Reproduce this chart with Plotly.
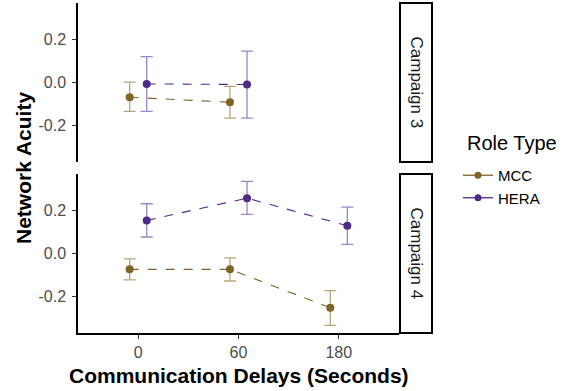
import plotly.graph_objects as go

delays = ["0", "60", "180"]
roles = ["MCC", "HERA"]

# Campaign 3 (no 180 s data)
c3_mcc = [-0.070, -0.093, None]
c3_mcc_lo = [-0.135, -0.167, None]
c3_mcc_hi = [0.000, -0.019, None]
c3_hera = [-0.008, -0.011, None]
c3_hera_lo = [-0.135, -0.167, None]
c3_hera_hi = [0.118, 0.144, None]

# Campaign 4
c4_mcc = [-0.075, -0.075, -0.253]
c4_mcc_lo = [-0.124, -0.129, -0.335]
c4_mcc_hi = [-0.026, -0.022, -0.174]
c4_hera = [0.152, 0.255, 0.127]
c4_hera_lo = [0.075, 0.180, 0.041]
c4_hera_hi = [0.229, 0.333, 0.213]

colors = {"MCC": "#7F6427", "HERA": "#4F2A86"}
err_colors = {"MCC": "#B8A678", "HERA": "#9C86C6"}
dodge = {"MCC": -0.085, "HERA": 0.085}

FONT = "Liberation Sans, Arial, sans-serif"

fig = go.Figure()


def add_series(role, vals, lo, hi, xa, ya):
    xs, ys, ep, em = [], [], [], []
    for i, v in enumerate(vals):
        if v is None:
            continue
        xs.append(i + 1 + dodge[role])
        ys.append(v)
        ep.append(hi[i] - v)
        em.append(v - lo[i])
    fig.add_trace(go.Scatter(
        x=xs, y=ys, mode="lines+markers", xaxis=xa, yaxis=ya,
        line=dict(color=colors[role], dash="dash", width=1.1),
        marker=dict(color=colors[role], size=8),
        error_y=dict(type="data", symmetric=False, array=ep, arrayminus=em,
                     color=err_colors[role], thickness=1.3, width=6),
        showlegend=False, hoverinfo="skip"))


add_series("MCC", c3_mcc, c3_mcc_lo, c3_mcc_hi, "x2", "y2")
add_series("HERA", c3_hera, c3_hera_lo, c3_hera_hi, "x2", "y2")
add_series("MCC", c4_mcc, c4_mcc_lo, c4_mcc_hi, "x", "y")
add_series("HERA", c4_hera, c4_hera_lo, c4_hera_hi, "x", "y")

for role in roles:
    fig.add_trace(go.Scatter(
        x=[None], y=[None], mode="lines+markers", name=role,
        line=dict(color=colors[role], width=1.3),
        marker=dict(color=colors[role], size=7), showlegend=True))

ytick = dict(tickvals=[-0.2, 0.0, 0.2], ticktext=["-0.2", "0.0", "0.2"],
             range=[-0.37, 0.367], showline=True, linecolor="black", linewidth=1.5,
             ticks="outside", ticklen=4, tickcolor="#333333", tickwidth=1,
             showgrid=False, zeroline=False, ticklabelstandoff=3,
             tickfont=dict(family=FONT, size=16, color="#4D4D4D"))

W, H = 563, 391
L, R, T, B = 78, 164, 3, 58
pw, ph = W - L - R, H - T - B


def px(xp):
    return (xp - L) / pw


def py(yp):
    return (H - B - yp) / ph


fig.update_layout(
    width=W, height=H,
    margin=dict(l=L, r=R, t=T, b=B),
    plot_bgcolor="white", paper_bgcolor="white",
    font=dict(family=FONT),
    xaxis=dict(domain=[0, 1], anchor="y", range=[0.4, 3.6],
               tickvals=[1, 2, 3], ticktext=delays,
               showline=True, linecolor="black", linewidth=1.5,
               ticks="outside", ticklen=4, tickcolor="#333333",
               showgrid=False, zeroline=False,
               tickfont=dict(family=FONT, size=16, color="#4D4D4D")),
    yaxis=dict(domain=[0, py(174)], anchor="x", **ytick),
    xaxis2=dict(domain=[0, 1], anchor="y2", range=[0.4, 3.6], matches="x",
                showline=False, showticklabels=False, ticks="", showgrid=False,
                zeroline=False),
    yaxis2=dict(domain=[py(162), 1.0], anchor="x2", **ytick),
    legend=dict(x=px(458), y=py(159), xanchor="left", yanchor="top",
                font=dict(family=FONT, size=15, color="black"),
                tracegroupgap=0, itemwidth=30),
)

# axis titles
fig.add_annotation(x=px(23), y=0.5, xref="paper", yref="paper", xanchor="center",
                   yanchor="middle", text="<b>Network Acuity</b>", textangle=-90,
                   showarrow=False, font=dict(family=FONT, size=21, color="black"))
fig.add_annotation(x=0.5, y=py(375), xref="paper", yref="paper", xanchor="center",
                   yanchor="middle", text="<b>Communication Delays (Seconds)</b>",
                   showarrow=False, font=dict(family=FONT, size=21, color="black"))
# legend title
fig.add_annotation(x=px(465), y=py(143), xref="paper", yref="paper", xanchor="left",
                   yanchor="middle", text="Role Type", showarrow=False,
                   font=dict(family=FONT, size=20, color="black"))

# strips
for label, y0, y1 in [("Campaign 3", py(162), 1.0), ("Campaign 4", 0.0, py(174))]:
    fig.add_shape(type="rect", xref="paper", yref="paper", x0=px(400), x1=px(432),
                  y0=y0, y1=y1, line=dict(color="black", width=2), fillcolor="white")
    fig.add_annotation(x=px(416), y=(y0 + y1) / 2, xref="paper", yref="paper",
                       xanchor="center", yanchor="middle",
                       text=label, textangle=90, showarrow=False,
                       font=dict(family=FONT, size=17, color="#1A1A1A"))

fig.write_html("out.html")
